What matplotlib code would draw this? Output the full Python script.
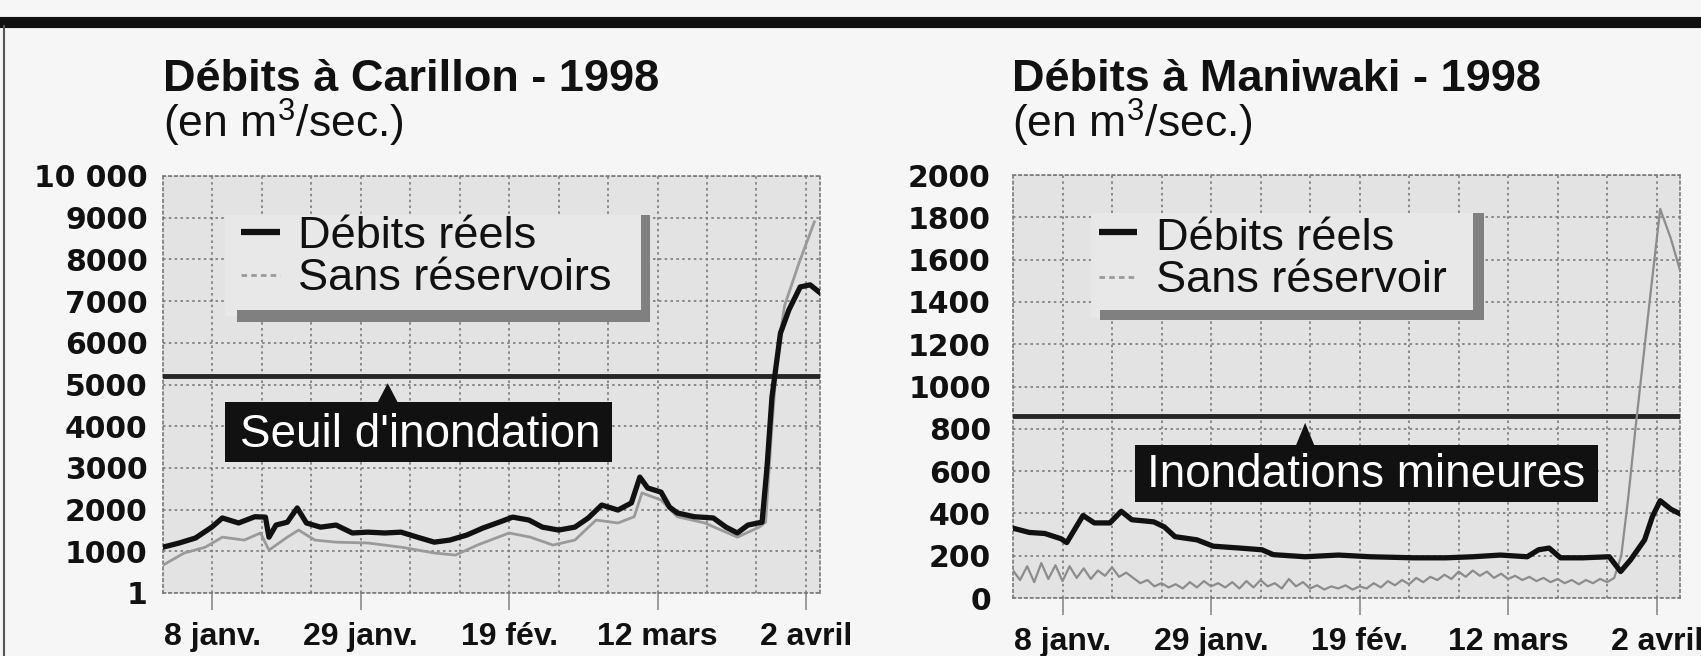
import matplotlib
matplotlib.use('Agg')
import matplotlib.pyplot as plt
from matplotlib.patches import Rectangle, Polygon
from matplotlib.lines import Line2D

plt.rcParams['mathtext.fontset'] = 'custom'
plt.rcParams['mathtext.rm'] = 'Liberation Sans'

W, H, DPI = 1701, 656, 100

# ---------------- data ----------------
TICK_DAYS = [7, 28, 49, 70, 91]            # days since 1 Jan 1998
TICK_LABELS = ['8 janv.', '29 janv.', '19 fév.', '12 mars', '2 avril']
WEEK_DAYS = [14, 21, 35, 42, 56, 63, 77, 84]

CAR_TITLE = 'Débits à Carillon - 1998'
MAN_TITLE = 'Débits à Maniwaki - 1998'
UNIT = '(en m$^{\\mathregular{3}}$/sec.)'

CAR_YTICKS = [1, 1000, 2000, 3000, 4000, 5000, 6000, 7000, 8000, 9000, 10000]
CAR_YLABELS = ['1', '1000', '2000', '3000', '4000', '5000', '6000', '7000', '8000', '9000', '10 000']
MAN_YTICKS = [0, 200, 400, 600, 800, 1000, 1200, 1400, 1600, 1800, 2000]
MAN_YLABELS = ['0', '200', '400', '600', '800', '1000', '1200', '1400', '1600', '1800', '2000']

CAR_THRESHOLD = 5200
MAN_THRESHOLD = 860
CAR_THRESHOLD_LABEL = "Seuil d'inondation"
MAN_THRESHOLD_LABEL = 'Inondations mineures'

LEG_REEL = 'Débits réels'
CAR_LEG_SANS = 'Sans réservoirs'
MAN_LEG_SANS = 'Sans réservoir'

CAR_REEL_DAYS = [0, 2.3, 4.6, 6.9, 8.4, 10.7, 13, 14.5, 15, 16, 17.6, 19, 20.3, 22.3, 24.5,
                 26.8, 29, 31.4, 33.7, 36, 38.4, 40.6, 43, 45.3, 47.6, 49.5, 51.8, 53.7, 56,
                 58.3, 60.2, 62.1, 64.4, 66.3, 67.5, 68.6, 70.5, 71.7, 72.8, 75.2, 77.9, 79.7,
                 81.3, 82.8, 84.8, 85.5, 86.2, 87.4, 88.6, 90.2, 91.6, 93.0]
CAR_REEL = [1100, 1200, 1320, 1580, 1800, 1680, 1830, 1820, 1340, 1630, 1700, 2040, 1680, 1580,
            1630, 1440, 1460, 1440, 1460, 1340, 1220, 1270, 1390, 1560, 1700, 1820, 1750, 1580,
            1510, 1580, 1800, 2110, 1990, 2160, 2780, 2520, 2420, 2060, 1920, 1830, 1800, 1580,
            1440, 1630, 1700, 3020, 4700, 6230, 6790, 7340, 7390, 7200]

CAR_SANS_DAYS = [0, 3, 6, 8.4, 11.5, 13.8, 15, 17.6, 19.2, 21.5, 24.5, 29, 33.7, 38.4, 41.4,
                 44.5, 49, 52, 55.2, 58.3, 61.3, 64.4, 66.7, 67.8, 70.5, 72.8, 76.7, 81.3, 84.4,
                 85.3, 86.2, 87.0, 88.0, 90.0, 92.2]
CAR_SANS = [670, 960, 1100, 1340, 1270, 1440, 1030, 1340, 1510, 1270, 1220, 1200, 1100, 960, 910,
            1150, 1440, 1340, 1150, 1270, 1750, 1680, 1830, 2400, 2230, 1830, 1680, 1340, 1580,
            1700, 4000, 5800, 6900, 7900, 8900]

MAN_REEL_DAYS = [0, 2.3, 4.5, 6.8, 7.6, 9.9, 11.5, 13.7, 15.3, 16.8, 19.9, 21.4, 22.9, 26, 28.3,
                 32.1, 35.2, 36.8, 41.3, 46, 50.5, 56.7, 61.2, 65, 68.9, 72.7, 74.3, 75.8, 77.4,
                 80.5, 84.3, 85.9, 87.3, 89.3, 90.4, 91.5, 93, 94.2]
MAN_REEL = [330, 310, 305, 280, 262, 390, 355, 355, 410, 370, 360, 336, 290, 275, 245, 236, 228,
            205, 195, 203, 195, 190, 190, 195, 203, 195, 228, 236, 190, 190, 195, 125, 180, 275,
            385, 460, 420, 400]

MAN_SANS_DAYS = list(range(86)) + [86, 87, 88, 89, 90, 91.5, 93, 94.3]
MAN_SANS = [130, 85, 150, 75, 165, 90, 155, 80, 150, 95, 140, 90, 130, 105, 145, 100, 120,
            95, 70, 85, 55, 70, 50, 65, 45, 75, 50, 80, 55, 70, 50,
            75, 45, 80, 50, 85, 55, 70, 45, 90, 55, 75, 45, 60, 40, 55,
            45, 60, 40, 55, 45, 70, 50, 80, 60, 85, 65, 95, 75, 100, 85,
            110, 90, 125, 100, 130, 105, 125, 95, 115, 90, 105, 85, 100, 80, 95,
            75, 90, 70, 85, 65, 85, 70, 90, 75, 95,
            200, 480, 800, 1100, 1400, 1840, 1700, 1550]

# ---------------- figure ----------------
PAPER = '#f6f6f6'
PLOT_BG = '#e3e3e3'
GRID = '#7a7a7a'
DOT = (0, (1.5, 2.0))

fig = plt.figure(figsize=(W / DPI, H / DPI), dpi=DPI, facecolor=PAPER)


def fx(x):
    return x / W


def fy(y):
    return 1 - y / H


def make_axes(l, t, r, b):
    return fig.add_axes([fx(l), fy(b), (r - l) / W, (b - t) / H])


def style(ax, xmax, ylim, yticks, ylabels, ypad):
    ax.set_facecolor(PLOT_BG)
    ax.set_xlim(0, xmax)
    ax.set_ylim(*ylim)
    ax.set_xticks(TICK_DAYS)
    ax.set_xticklabels(TICK_LABELS, fontfamily='Liberation Sans', fontweight='bold', fontsize=23)
    ax.set_xticks(WEEK_DAYS, minor=True)
    ax.set_yticks(yticks)
    ax.set_yticklabels(ylabels, fontfamily='DejaVu Sans', fontweight='bold', fontsize=21.5)
    ax.tick_params(axis='x', which='major', length=12, width=1.2, color='#8a8a8a', pad=9,
                   direction='out', labelcolor='#111')
    ax.tick_params(axis='x', which='minor', length=0)
    ax.tick_params(axis='y', length=0, pad=ypad, labelcolor='#111')
    ax.set_axisbelow(True)
    ax.grid(True, axis='x', which='both', color=GRID, linestyle=DOT, linewidth=1.2)
    ax.grid(True, axis='y', which='major', color=GRID, linestyle=DOT, linewidth=1.2)
    for s in ax.spines.values():
        s.set_linestyle(DOT)
        s.set_color(GRID)
        s.set_linewidth(1.2)


def legend(ax, box, rbar, bbar, dash_x, y_reel, y_sans, text_x, base_reel, base_sans, sans_label):
    T = ax.transAxes
    ax.add_patch(Rectangle((box[0], box[1]), box[2] - box[0], box[3] - box[1], transform=T,
                           facecolor='#e8e8e8', edgecolor='none', zorder=6))
    ax.add_patch(Rectangle((rbar[0], rbar[1]), rbar[2] - rbar[0], rbar[3] - rbar[1], transform=T,
                           facecolor='#808080', edgecolor='none', zorder=6))
    ax.add_patch(Rectangle((bbar[0], bbar[1]), bbar[2] - bbar[0], bbar[3] - bbar[1], transform=T,
                           facecolor='#808080', edgecolor='none', zorder=6))
    ax.plot(dash_x, [y_reel, y_reel], transform=T, color='#111', lw=4.5, zorder=7,
            solid_capstyle='butt')
    ax.plot(dash_x, [y_sans, y_sans], transform=T, color='#9a9a9a', lw=2, zorder=7,
            linestyle=(0, (2, 1.5)))
    ax.text(text_x, base_reel, LEG_REEL, transform=T, fontfamily='Liberation Sans', fontsize=32.5,
            color='#111', va='baseline', ha='left', zorder=8)
    ax.text(text_x, base_sans, sans_label, transform=T, fontfamily='Liberation Sans', fontsize=32.5,
            color='#111', va='baseline', ha='left', zorder=8)


def flag(ax, box, tip, base_y, half, text_x, text_base, label):
    T = ax.transAxes
    ax.add_patch(Rectangle((box[0], box[1]), box[2] - box[0], box[3] - box[1], transform=T,
                           facecolor='#111', edgecolor='none', zorder=6))
    ax.add_patch(Polygon([(tip[0] - half, base_y), (tip[0] + half, base_y), tip], closed=True,
                         transform=T, facecolor='#111', edgecolor='none', zorder=6))
    ax.text(text_x, text_base, label, transform=T, fontfamily='Liberation Sans', fontsize=33,
            color='white', va='baseline', ha='center', zorder=8)


# ---- left: Carillon ----
axL = make_axes(163, 176, 820, 593)
style(axL, 93, (1, 10000), CAR_YTICKS, CAR_YLABELS, 11)
axL.axhline(CAR_THRESHOLD, color='#262626', lw=3.5, zorder=3)
axL.plot(CAR_SANS_DAYS, CAR_SANS, color='#9a9a9a', lw=2.0, zorder=4)
axL.plot(CAR_REEL_DAYS, CAR_REEL, color='#111', lw=3.8, zorder=5, solid_joinstyle='round')
legend(axL, box=(0.094, 0.665, 0.727, 0.906), rbar=(0.727, 0.650, 0.742, 0.906),
       bbar=(0.112, 0.650, 0.742, 0.678), dash_x=[0.119, 0.178], y_reel=0.866, y_sans=0.763,
       text_x=0.205, base_reel=0.828, base_sans=0.727, sans_label=CAR_LEG_SANS)
flag(axL, box=(0.094, 0.314, 0.683, 0.458), tip=(0.342, 0.503), base_y=0.455, half=0.016,
     text_x=0.391, text_base=0.350, label=CAR_THRESHOLD_LABEL)

# ---- right: Maniwaki ----
axR = make_axes(1013, 175, 1680, 598)
style(axR, 94.3, (0, 2000), MAN_YTICKS, MAN_YLABELS, 16)
axR.axhline(MAN_THRESHOLD, color='#262626', lw=3.5, zorder=3)
axR.plot(MAN_SANS_DAYS, MAN_SANS, color='#8c8c8c', lw=1.6, zorder=4)
axR.plot(MAN_REEL_DAYS, MAN_REEL, color='#111', lw=3.8, zorder=5, solid_joinstyle='round')
legend(axR, box=(0.117, 0.665, 0.690, 0.910), rbar=(0.690, 0.657, 0.706, 0.910),
       bbar=(0.130, 0.657, 0.706, 0.681), dash_x=[0.129, 0.186], y_reel=0.865, y_sans=0.760,
       text_x=0.214, base_reel=0.823, base_sans=0.723, sans_label=MAN_LEG_SANS)
flag(axR, box=(0.183, 0.227, 0.877, 0.362), tip=(0.438, 0.414), base_y=0.360, half=0.014,
     text_x=0.529, text_base=0.262, label=MAN_THRESHOLD_LABEL)

# ---- titles ----
for x, title in ((163, CAR_TITLE), (1012, MAN_TITLE)):
    fig.text(fx(x), fy(91), title, fontfamily='Liberation Sans', fontweight='bold', fontsize=32.5,
             color='#111', ha='left', va='baseline')
    fig.text(fx(x), fy(138), UNIT, fontfamily='Liberation Sans', fontsize=32,
             color='#111', ha='left', va='baseline')

# ---- page frame ----
fig.add_artist(Line2D([0, 1], [fy(22), fy(22)], transform=fig.transFigure, color='#111', lw=8))
fig.add_artist(Line2D([fx(4), fx(4)], [fy(26), 0], transform=fig.transFigure, color='#555', lw=1.5))

fig.savefig('out.png', dpi=DPI, facecolor=PAPER)
